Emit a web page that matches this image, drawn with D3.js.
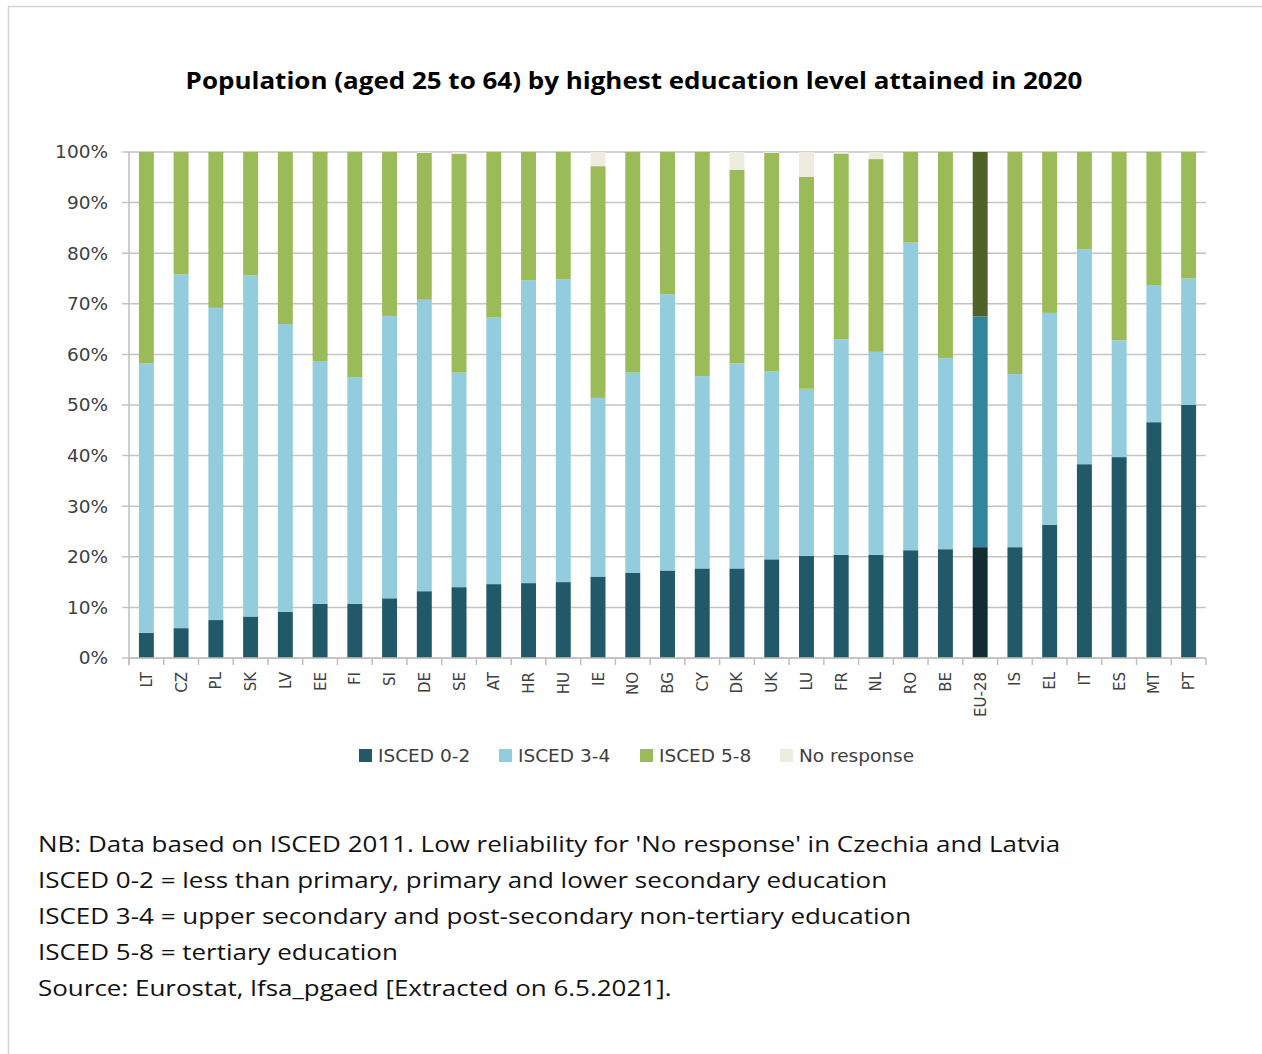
<!DOCTYPE html>
<html>
<head>
<meta charset="utf-8">
<script src="https://cdn.jsdelivr.net/npm/d3@7"></script>
<style>
  html, body { margin: 0; padding: 0; background: #fff; }
  svg { display: block; }
</style>
</head>
<body>
<div id="chartDiv"></div>
<script>
'use strict';

// chart values (percent of population aged 25-64)
const countries = ['LT','CZ','PL','SK','LV','EE','FI','SI','DE','SE','AT','HR','HU','IE','NO','BG','CY','DK','UK','LU','FR','NL','RO','BE','EU-28','IS','EL','IT','ES','MT','PT'];
const isced02 = [5.0,5.9,7.5,8.2,9.1,10.7,10.7,11.8,13.2,14.0,14.6,14.8,15.0,16.1,16.8,17.3,17.7,17.7,19.5,20.2,20.4,20.4,21.3,21.5,21.9,21.9,26.3,38.3,39.7,46.6,50.0];
const isced34 = [53.2,69.9,61.7,67.4,56.9,48.0,44.8,55.8,57.6,42.4,52.7,59.8,59.8,35.3,39.6,54.6,38.0,40.5,37.2,33.0,42.6,40.1,60.8,37.8,45.6,34.2,41.9,42.5,23.1,27.1,25.0];
const isced58 = [41.8,24.2,30.8,24.4,34.0,41.3,44.5,32.4,29.0,43.2,32.7,25.4,25.2,45.8,43.6,28.1,44.3,38.3,43.1,41.9,36.7,38.1,17.9,40.7,32.5,43.9,31.8,19.2,37.2,26.3,25.0];
const noResponse = [0,0,0,0,0,0,0,0,0.2,0.4,0,0,0,2.8,0,0,0,3.5,0.2,4.9,0.3,1.4,0,0,0,0,0,0,0,0,0];

const seriesNames = ['ISCED 0-2','ISCED 3-4','ISCED 5-8','No response'];
const yTicks = [0,10,20,30,40,50,60,70,80,90,100];
const highlight = 'EU-28';

const titleText = 'Population (aged 25 to 64) by highest education level attained in 2020';
const notes = [
  "NB: Data based on ISCED 2011. Low reliability for 'No response' in Czechia and Latvia",
  'ISCED 0-2 = less than primary, primary and lower secondary education',
  'ISCED 3-4 = upper secondary and post-secondary non-tertiary education',
  'ISCED 5-8 = tertiary education',
  'Source: Eurostat, lfsa_pgaed [Extracted on 6.5.2021].'
];

const colors = ['#215968','#93cddd','#9bbb59','#eeece1'];
const colorsHighlight = ['#132c33','#31859c','#4f6228','#eeece1'];

const W = 1262, H = 1054;
const plot = { left: 129, right: 1206, top: 152, bottom: 658 };

const rows = countries.map((c, i) => ({
  country: c,
  'ISCED 0-2': isced02[i],
  'ISCED 3-4': isced34[i],
  'ISCED 5-8': isced58[i],
  'No response': noResponse[i]
}));

const svg = d3.select('#chartDiv').append('svg')
  .attr('width', W)
  .attr('height', H);

// outer frame
svg.append('rect')
  .attr('x', 8.5).attr('y', 6.5)
  .attr('width', W + 10).attr('height', H + 10)
  .attr('fill', 'none')
  .attr('stroke', '#d4d4d4')
  .attr('stroke-width', 1.5);

// title (source picture is stretched horizontally)
svg.append('g')
  .attr('transform', 'translate(634,0) scale(1.083,1)')
  .append('text')
  .attr('x', 0).attr('y', 89)
  .attr('text-anchor', 'middle')
  .attr('font-family', 'Open Sans')
  .attr('font-weight', 'bold')
  .attr('font-size', 24)
  .attr('fill', '#000')
  .text(titleText);

const x = d3.scaleBand()
  .domain(countries)
  .range([plot.left, plot.right])
  .paddingInner(0.57)
  .paddingOuter(0.285);

const y = d3.scaleLinear()
  .domain([0, 100])
  .range([plot.bottom, plot.top]);

// grid lines
svg.append('g')
  .selectAll('line')
  .data(yTicks)
  .join('line')
  .attr('x1', plot.left - 7).attr('x2', plot.right)
  .attr('y1', d => y(d)).attr('y2', d => y(d))
  .attr('stroke', '#c4c4c4')
  .attr('stroke-width', 1.5);

// y axis
const yAxis = svg.append('g')
  .attr('transform', 'translate(' + plot.left + ',0)')
  .call(d3.axisLeft(y).tickValues(yTicks).tickSize(0).tickPadding(21).tickFormat(d => d + '%'));
yAxis.select('.domain')
  .attr('stroke', '#bfbfbf')
  .attr('stroke-width', 1.5)
  .attr('d', 'M0,' + plot.top + 'V' + (plot.bottom + 7));
yAxis.selectAll('text')
  .attr('font-family', 'DejaVu Sans')
  .attr('font-size', 18.5)
  .attr('fill', '#404040');

// stacked bars
const stack = d3.stack().keys(seriesNames);
const layers = stack(rows);

svg.append('g')
  .selectAll('g')
  .data(layers)
  .join('g')
  .each(function(layer, k) {
    d3.select(this).selectAll('rect')
      .data(layer)
      .join('rect')
      .attr('x', d => x(d.data.country))
      .attr('width', x.bandwidth())
      .attr('y', d => y(d[1]))
      .attr('height', d => Math.max(0, y(d[0]) - y(d[1])))
      .attr('fill', d => d.data.country === highlight ? colorsHighlight[k] : colors[k]);
  });

// x axis line and boundary ticks
const xIdx = d3.scaleLinear().domain([0, countries.length]).range([plot.left, plot.right]);
const xAxis = svg.append('g');
xAxis.append('line')
  .attr('x1', plot.left).attr('x2', plot.right)
  .attr('y1', plot.bottom).attr('y2', plot.bottom)
  .attr('stroke', '#bfbfbf')
  .attr('stroke-width', 1.5);
xAxis.selectAll('line.tick')
  .data(d3.range(countries.length + 1))
  .join('line')
  .attr('class', 'tick')
  .attr('x1', d => xIdx(d)).attr('x2', d => xIdx(d))
  .attr('y1', plot.bottom).attr('y2', plot.bottom + 7)
  .attr('stroke', '#bfbfbf')
  .attr('stroke-width', 1.5);

// category labels
svg.append('g')
  .selectAll('text')
  .data(countries)
  .join('text')
  .attr('transform', d => 'translate(' + (x(d) + x.bandwidth() / 2 + 5.5) + ',' + (plot.bottom + 14) + ') rotate(-90)')
  .attr('text-anchor', 'end')
  .attr('font-family', 'DejaVu Sans')
  .attr('font-size', 15)
  .attr('fill', '#404040')
  .text(d => d);

// legend
const legendX = [359, 499, 640, 780];
const legend = svg.append('g')
  .selectAll('g')
  .data(seriesNames)
  .join('g')
  .attr('transform', (d, i) => 'translate(' + legendX[i] + ',755)');
legend.append('rect')
  .attr('x', 0).attr('y', -6)
  .attr('width', 13).attr('height', 13)
  .attr('fill', (d, i) => colors[i]);
legend.append('text')
  .attr('x', 19).attr('y', 7)
  .attr('font-family', 'DejaVu Sans')
  .attr('font-size', 18.5)
  .attr('fill', '#404040')
  .text(d => d);

// notes (stretched like the source picture)
svg.append('g')
  .attr('transform', 'translate(38,0) scale(1.237,1)')
  .selectAll('text')
  .data(notes)
  .join('text')
  .attr('x', 0)
  .attr('y', (d, i) => 852 + i * 36)
  .attr('font-family', 'Open Sans')
  .attr('font-size', 21)
  .attr('fill', '#111')
  .text(d => d);
</script>
</body>
</html>
